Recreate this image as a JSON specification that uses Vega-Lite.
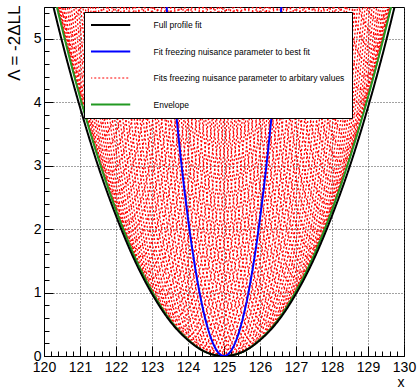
{
  "$schema": "https://vega.github.io/schema/vega-lite/v6.json",
  "width": 360,
  "height": 349,
  "autosize": "none",
  "padding": {"left": 44, "top": 7, "right": 16, "bottom": 33},
  "background": "white",
  "config": {
    "view": {"stroke": "black", "strokeWidth": 1},
    "axis": {"labelFont": "Liberation Sans", "titleFont": "Liberation Sans", "labelColor": "black", "titleColor": "black", "domainColor": "black", "tickColor": "black", "titleFontWeight": "normal"},
    "legend": {"labelFont": "Liberation Sans", "labelColor": "black"}
  },
  "data": {"values": [
    {"s":"C","k":1,"x":119.12,"y":10.99},{"s":"C","k":1,"x":119.92,"y":6.72},{"s":"C","k":1,"x":120.72,"y":5.29},{"s":"C","k":1,"x":121.52,"y":6.72},{"s":"C","k":1,"x":122.32,"y":10.99},
    {"s":"C","k":2,"x":119.30,"y":10.54},{"s":"C","k":2,"x":120.10,"y":6.27},{"s":"C","k":2,"x":120.90,"y":4.84},{"s":"C","k":2,"x":121.70,"y":6.27},{"s":"C","k":2,"x":122.50,"y":10.54},
    {"s":"C","k":3,"x":119.49,"y":10.11},{"s":"C","k":3,"x":120.29,"y":5.84},{"s":"C","k":3,"x":121.09,"y":4.41},{"s":"C","k":3,"x":121.89,"y":5.84},{"s":"C","k":3,"x":122.69,"y":10.11},
    {"s":"C","k":4,"x":119.67,"y":9.70},{"s":"C","k":4,"x":120.47,"y":5.43},{"s":"C","k":4,"x":121.27,"y":4.00},{"s":"C","k":4,"x":122.07,"y":5.43},{"s":"C","k":4,"x":122.87,"y":9.70},
    {"s":"C","k":5,"x":119.86,"y":9.31},{"s":"C","k":5,"x":120.66,"y":5.04},{"s":"C","k":5,"x":121.46,"y":3.61},{"s":"C","k":5,"x":122.26,"y":5.04},{"s":"C","k":5,"x":123.06,"y":9.31},
    {"s":"C","k":6,"x":120.05,"y":8.94},{"s":"C","k":6,"x":120.85,"y":4.67},{"s":"C","k":6,"x":121.65,"y":3.24},{"s":"C","k":6,"x":122.45,"y":4.67},{"s":"C","k":6,"x":123.25,"y":8.94},
    {"s":"C","k":7,"x":120.23,"y":8.59},{"s":"C","k":7,"x":121.03,"y":4.32},{"s":"C","k":7,"x":121.83,"y":2.89},{"s":"C","k":7,"x":122.63,"y":4.32},{"s":"C","k":7,"x":123.43,"y":8.59},
    {"s":"C","k":8,"x":120.42,"y":8.26},{"s":"C","k":8,"x":121.22,"y":3.99},{"s":"C","k":8,"x":122.02,"y":2.56},{"s":"C","k":8,"x":122.82,"y":3.99},{"s":"C","k":8,"x":123.62,"y":8.26},
    {"s":"C","k":9,"x":120.61,"y":7.95},{"s":"C","k":9,"x":121.41,"y":3.68},{"s":"C","k":9,"x":122.21,"y":2.25},{"s":"C","k":9,"x":123.01,"y":3.68},{"s":"C","k":9,"x":123.81,"y":7.95},
    {"s":"C","k":10,"x":120.79,"y":7.66},{"s":"C","k":10,"x":121.59,"y":3.39},{"s":"C","k":10,"x":122.39,"y":1.96},{"s":"C","k":10,"x":123.19,"y":3.39},{"s":"C","k":10,"x":123.99,"y":7.66},
    {"s":"C","k":11,"x":120.98,"y":7.39},{"s":"C","k":11,"x":121.78,"y":3.12},{"s":"C","k":11,"x":122.58,"y":1.69},{"s":"C","k":11,"x":123.38,"y":3.12},{"s":"C","k":11,"x":124.18,"y":7.39},
    {"s":"C","k":12,"x":121.16,"y":7.14},{"s":"C","k":12,"x":121.96,"y":2.87},{"s":"C","k":12,"x":122.76,"y":1.44},{"s":"C","k":12,"x":123.56,"y":2.87},{"s":"C","k":12,"x":124.36,"y":7.14},
    {"s":"C","k":13,"x":121.35,"y":6.91},{"s":"C","k":13,"x":122.15,"y":2.64},{"s":"C","k":13,"x":122.95,"y":1.21},{"s":"C","k":13,"x":123.75,"y":2.64},{"s":"C","k":13,"x":124.55,"y":6.91},
    {"s":"C","k":14,"x":121.54,"y":6.70},{"s":"C","k":14,"x":122.34,"y":2.43},{"s":"C","k":14,"x":123.14,"y":1.00},{"s":"C","k":14,"x":123.94,"y":2.43},{"s":"C","k":14,"x":124.74,"y":6.70},
    {"s":"C","k":15,"x":121.72,"y":6.51},{"s":"C","k":15,"x":122.52,"y":2.24},{"s":"C","k":15,"x":123.32,"y":0.81},{"s":"C","k":15,"x":124.12,"y":2.24},{"s":"C","k":15,"x":124.92,"y":6.51},
    {"s":"C","k":16,"x":121.91,"y":6.34},{"s":"C","k":16,"x":122.71,"y":2.07},{"s":"C","k":16,"x":123.51,"y":0.64},{"s":"C","k":16,"x":124.31,"y":2.07},{"s":"C","k":16,"x":125.11,"y":6.34},
    {"s":"C","k":17,"x":122.10,"y":6.19},{"s":"C","k":17,"x":122.90,"y":1.92},{"s":"C","k":17,"x":123.70,"y":0.49},{"s":"C","k":17,"x":124.50,"y":1.92},{"s":"C","k":17,"x":125.30,"y":6.19},
    {"s":"C","k":18,"x":122.28,"y":6.06},{"s":"C","k":18,"x":123.08,"y":1.79},{"s":"C","k":18,"x":123.88,"y":0.36},{"s":"C","k":18,"x":124.68,"y":1.79},{"s":"C","k":18,"x":125.48,"y":6.06},
    {"s":"C","k":19,"x":122.47,"y":5.95},{"s":"C","k":19,"x":123.27,"y":1.68},{"s":"C","k":19,"x":124.07,"y":0.25},{"s":"C","k":19,"x":124.87,"y":1.68},{"s":"C","k":19,"x":125.67,"y":5.95},
    {"s":"C","k":20,"x":122.66,"y":5.86},{"s":"C","k":20,"x":123.46,"y":1.59},{"s":"C","k":20,"x":124.26,"y":0.16},{"s":"C","k":20,"x":125.06,"y":1.59},{"s":"C","k":20,"x":125.86,"y":5.86},
    {"s":"C","k":21,"x":122.84,"y":5.79},{"s":"C","k":21,"x":123.64,"y":1.52},{"s":"C","k":21,"x":124.44,"y":0.09},{"s":"C","k":21,"x":125.24,"y":1.52},{"s":"C","k":21,"x":126.04,"y":5.79},
    {"s":"C","k":22,"x":123.03,"y":5.74},{"s":"C","k":22,"x":123.83,"y":1.47},{"s":"C","k":22,"x":124.63,"y":0.04},{"s":"C","k":22,"x":125.43,"y":1.47},{"s":"C","k":22,"x":126.23,"y":5.74},
    {"s":"C","k":23,"x":123.21,"y":5.71},{"s":"C","k":23,"x":124.01,"y":1.44},{"s":"C","k":23,"x":124.81,"y":0.01},{"s":"C","k":23,"x":125.61,"y":1.44},{"s":"C","k":23,"x":126.41,"y":5.71},
    {"s":"C","k":24,"x":123.40,"y":5.70},{"s":"C","k":24,"x":124.20,"y":1.43},{"s":"C","k":24,"x":125.00,"y":0.00},{"s":"C","k":24,"x":125.80,"y":1.43},{"s":"C","k":24,"x":126.60,"y":5.70},
    {"s":"C","k":25,"x":123.59,"y":5.71},{"s":"C","k":25,"x":124.39,"y":1.44},{"s":"C","k":25,"x":125.19,"y":0.01},{"s":"C","k":25,"x":125.99,"y":1.44},{"s":"C","k":25,"x":126.79,"y":5.71},
    {"s":"C","k":26,"x":123.77,"y":5.74},{"s":"C","k":26,"x":124.57,"y":1.47},{"s":"C","k":26,"x":125.37,"y":0.04},{"s":"C","k":26,"x":126.17,"y":1.47},{"s":"C","k":26,"x":126.97,"y":5.74},
    {"s":"C","k":27,"x":123.96,"y":5.79},{"s":"C","k":27,"x":124.76,"y":1.52},{"s":"C","k":27,"x":125.56,"y":0.09},{"s":"C","k":27,"x":126.36,"y":1.52},{"s":"C","k":27,"x":127.16,"y":5.79},
    {"s":"C","k":28,"x":124.14,"y":5.86},{"s":"C","k":28,"x":124.94,"y":1.59},{"s":"C","k":28,"x":125.74,"y":0.16},{"s":"C","k":28,"x":126.54,"y":1.59},{"s":"C","k":28,"x":127.34,"y":5.86},
    {"s":"C","k":29,"x":124.33,"y":5.95},{"s":"C","k":29,"x":125.13,"y":1.68},{"s":"C","k":29,"x":125.93,"y":0.25},{"s":"C","k":29,"x":126.73,"y":1.68},{"s":"C","k":29,"x":127.53,"y":5.95},
    {"s":"C","k":30,"x":124.52,"y":6.06},{"s":"C","k":30,"x":125.32,"y":1.79},{"s":"C","k":30,"x":126.12,"y":0.36},{"s":"C","k":30,"x":126.92,"y":1.79},{"s":"C","k":30,"x":127.72,"y":6.06},
    {"s":"C","k":31,"x":124.70,"y":6.19},{"s":"C","k":31,"x":125.50,"y":1.92},{"s":"C","k":31,"x":126.30,"y":0.49},{"s":"C","k":31,"x":127.10,"y":1.92},{"s":"C","k":31,"x":127.90,"y":6.19},
    {"s":"C","k":32,"x":124.89,"y":6.34},{"s":"C","k":32,"x":125.69,"y":2.07},{"s":"C","k":32,"x":126.49,"y":0.64},{"s":"C","k":32,"x":127.29,"y":2.07},{"s":"C","k":32,"x":128.09,"y":6.34},
    {"s":"C","k":33,"x":125.08,"y":6.51},{"s":"C","k":33,"x":125.88,"y":2.24},{"s":"C","k":33,"x":126.68,"y":0.81},{"s":"C","k":33,"x":127.48,"y":2.24},{"s":"C","k":33,"x":128.28,"y":6.51},
    {"s":"C","k":34,"x":125.26,"y":6.70},{"s":"C","k":34,"x":126.06,"y":2.43},{"s":"C","k":34,"x":126.86,"y":1.00},{"s":"C","k":34,"x":127.66,"y":2.43},{"s":"C","k":34,"x":128.46,"y":6.70},
    {"s":"C","k":35,"x":125.45,"y":6.91},{"s":"C","k":35,"x":126.25,"y":2.64},{"s":"C","k":35,"x":127.05,"y":1.21},{"s":"C","k":35,"x":127.85,"y":2.64},{"s":"C","k":35,"x":128.65,"y":6.91},
    {"s":"C","k":36,"x":125.64,"y":7.14},{"s":"C","k":36,"x":126.44,"y":2.87},{"s":"C","k":36,"x":127.24,"y":1.44},{"s":"C","k":36,"x":128.04,"y":2.87},{"s":"C","k":36,"x":128.84,"y":7.14},
    {"s":"C","k":37,"x":125.82,"y":7.39},{"s":"C","k":37,"x":126.62,"y":3.12},{"s":"C","k":37,"x":127.42,"y":1.69},{"s":"C","k":37,"x":128.22,"y":3.12},{"s":"C","k":37,"x":129.02,"y":7.39},
    {"s":"C","k":38,"x":126.01,"y":7.66},{"s":"C","k":38,"x":126.81,"y":3.39},{"s":"C","k":38,"x":127.61,"y":1.96},{"s":"C","k":38,"x":128.41,"y":3.39},{"s":"C","k":38,"x":129.21,"y":7.66},
    {"s":"C","k":39,"x":126.19,"y":7.95},{"s":"C","k":39,"x":126.99,"y":3.68},{"s":"C","k":39,"x":127.79,"y":2.25},{"s":"C","k":39,"x":128.59,"y":3.68},{"s":"C","k":39,"x":129.39,"y":7.95},
    {"s":"C","k":40,"x":126.38,"y":8.26},{"s":"C","k":40,"x":127.18,"y":3.99},{"s":"C","k":40,"x":127.98,"y":2.56},{"s":"C","k":40,"x":128.78,"y":3.99},{"s":"C","k":40,"x":129.58,"y":8.26},
    {"s":"C","k":41,"x":126.57,"y":8.59},{"s":"C","k":41,"x":127.37,"y":4.32},{"s":"C","k":41,"x":128.17,"y":2.89},{"s":"C","k":41,"x":128.97,"y":4.32},{"s":"C","k":41,"x":129.77,"y":8.59},
    {"s":"C","k":42,"x":126.75,"y":8.94},{"s":"C","k":42,"x":127.55,"y":4.67},{"s":"C","k":42,"x":128.35,"y":3.24},{"s":"C","k":42,"x":129.15,"y":4.67},{"s":"C","k":42,"x":129.95,"y":8.94},
    {"s":"C","k":43,"x":126.94,"y":9.31},{"s":"C","k":43,"x":127.74,"y":5.04},{"s":"C","k":43,"x":128.54,"y":3.61},{"s":"C","k":43,"x":129.34,"y":5.04},{"s":"C","k":43,"x":130.14,"y":9.31},
    {"s":"C","k":44,"x":127.13,"y":9.70},{"s":"C","k":44,"x":127.93,"y":5.43},{"s":"C","k":44,"x":128.73,"y":4.00},{"s":"C","k":44,"x":129.53,"y":5.43},{"s":"C","k":44,"x":130.33,"y":9.70},
    {"s":"C","k":45,"x":127.31,"y":10.11},{"s":"C","k":45,"x":128.11,"y":5.84},{"s":"C","k":45,"x":128.91,"y":4.41},{"s":"C","k":45,"x":129.71,"y":5.84},{"s":"C","k":45,"x":130.51,"y":10.11},
    {"s":"C","k":46,"x":127.50,"y":10.54},{"s":"C","k":46,"x":128.30,"y":6.27},{"s":"C","k":46,"x":129.10,"y":4.84},{"s":"C","k":46,"x":129.90,"y":6.27},{"s":"C","k":46,"x":130.70,"y":10.54},
    {"s":"C","k":47,"x":127.68,"y":10.99},{"s":"C","k":47,"x":128.48,"y":6.72},{"s":"C","k":47,"x":129.28,"y":5.29},{"s":"C","k":47,"x":130.08,"y":6.72},{"s":"C","k":47,"x":130.88,"y":10.99},
    {"s":"C","k":48,"x":123.31,"y":5.70},{"s":"C","k":48,"x":124.11,"y":1.43},{"s":"C","k":48,"x":124.91,"y":0.00},{"s":"C","k":48,"x":125.71,"y":1.43},{"s":"C","k":48,"x":126.51,"y":5.70},
    {"s":"C","k":49,"x":123.12,"y":5.72},{"s":"C","k":49,"x":123.92,"y":1.45},{"s":"C","k":49,"x":124.72,"y":0.02},{"s":"C","k":49,"x":125.52,"y":1.45},{"s":"C","k":49,"x":126.32,"y":5.72},
    {"s":"C","k":50,"x":122.93,"y":5.76},{"s":"C","k":50,"x":123.73,"y":1.49},{"s":"C","k":50,"x":124.53,"y":0.06},{"s":"C","k":50,"x":125.33,"y":1.49},{"s":"C","k":50,"x":126.13,"y":5.76},
    {"s":"C","k":51,"x":122.75,"y":5.82},{"s":"C","k":51,"x":123.55,"y":1.55},{"s":"C","k":51,"x":124.35,"y":0.12},{"s":"C","k":51,"x":125.15,"y":1.55},{"s":"C","k":51,"x":125.95,"y":5.82},
    {"s":"C","k":52,"x":122.56,"y":5.90},{"s":"C","k":52,"x":123.36,"y":1.63},{"s":"C","k":52,"x":124.16,"y":0.20},{"s":"C","k":52,"x":124.96,"y":1.63},{"s":"C","k":52,"x":125.76,"y":5.90},
    {"s":"C","k":53,"x":122.38,"y":6.00},{"s":"C","k":53,"x":123.18,"y":1.73},{"s":"C","k":53,"x":123.98,"y":0.30},{"s":"C","k":53,"x":124.78,"y":1.73},{"s":"C","k":53,"x":125.58,"y":6.00},
    {"s":"C","k":54,"x":122.19,"y":6.12},{"s":"C","k":54,"x":122.99,"y":1.85},{"s":"C","k":54,"x":123.79,"y":0.42},{"s":"C","k":54,"x":124.59,"y":1.85},{"s":"C","k":54,"x":125.39,"y":6.12},
    {"s":"C","k":55,"x":122.00,"y":6.26},{"s":"C","k":55,"x":122.80,"y":1.99},{"s":"C","k":55,"x":123.60,"y":0.56},{"s":"C","k":55,"x":124.40,"y":1.99},{"s":"C","k":55,"x":125.20,"y":6.26},
    {"s":"C","k":56,"x":121.82,"y":6.42},{"s":"C","k":56,"x":122.62,"y":2.15},{"s":"C","k":56,"x":123.42,"y":0.72},{"s":"C","k":56,"x":124.22,"y":2.15},{"s":"C","k":56,"x":125.02,"y":6.42},
    {"s":"C","k":57,"x":121.63,"y":6.60},{"s":"C","k":57,"x":122.43,"y":2.33},{"s":"C","k":57,"x":123.23,"y":0.90},{"s":"C","k":57,"x":124.03,"y":2.33},{"s":"C","k":57,"x":124.83,"y":6.60},
    {"s":"C","k":58,"x":121.44,"y":6.80},{"s":"C","k":58,"x":122.24,"y":2.53},{"s":"C","k":58,"x":123.04,"y":1.10},{"s":"C","k":58,"x":123.84,"y":2.53},{"s":"C","k":58,"x":124.64,"y":6.80},
    {"s":"C","k":59,"x":121.26,"y":7.02},{"s":"C","k":59,"x":122.06,"y":2.75},{"s":"C","k":59,"x":122.86,"y":1.32},{"s":"C","k":59,"x":123.66,"y":2.75},{"s":"C","k":59,"x":124.46,"y":7.02},
    {"s":"C","k":60,"x":121.07,"y":7.26},{"s":"C","k":60,"x":121.87,"y":2.99},{"s":"C","k":60,"x":122.67,"y":1.56},{"s":"C","k":60,"x":123.47,"y":2.99},{"s":"C","k":60,"x":124.27,"y":7.26},
    {"s":"C","k":61,"x":120.89,"y":7.52},{"s":"C","k":61,"x":121.69,"y":3.25},{"s":"C","k":61,"x":122.49,"y":1.82},{"s":"C","k":61,"x":123.29,"y":3.25},{"s":"C","k":61,"x":124.09,"y":7.52},
    {"s":"C","k":62,"x":120.70,"y":7.80},{"s":"C","k":62,"x":121.50,"y":3.53},{"s":"C","k":62,"x":122.30,"y":2.10},{"s":"C","k":62,"x":123.10,"y":3.53},{"s":"C","k":62,"x":123.90,"y":7.80},
    {"s":"C","k":63,"x":120.51,"y":8.10},{"s":"C","k":63,"x":121.31,"y":3.83},{"s":"C","k":63,"x":122.11,"y":2.40},{"s":"C","k":63,"x":122.91,"y":3.83},{"s":"C","k":63,"x":123.71,"y":8.10},
    {"s":"C","k":64,"x":120.33,"y":8.42},{"s":"C","k":64,"x":121.13,"y":4.15},{"s":"C","k":64,"x":121.93,"y":2.72},{"s":"C","k":64,"x":122.73,"y":4.15},{"s":"C","k":64,"x":123.53,"y":8.42},
    {"s":"C","k":65,"x":120.14,"y":8.76},{"s":"C","k":65,"x":120.94,"y":4.49},{"s":"C","k":65,"x":121.74,"y":3.06},{"s":"C","k":65,"x":122.54,"y":4.49},{"s":"C","k":65,"x":123.34,"y":8.76},
    {"s":"C","k":66,"x":119.95,"y":9.12},{"s":"C","k":66,"x":120.75,"y":4.85},{"s":"C","k":66,"x":121.55,"y":3.42},{"s":"C","k":66,"x":122.35,"y":4.85},{"s":"C","k":66,"x":123.15,"y":9.12},
    {"s":"C","k":67,"x":119.77,"y":9.50},{"s":"C","k":67,"x":120.57,"y":5.23},{"s":"C","k":67,"x":121.37,"y":3.80},{"s":"C","k":67,"x":122.17,"y":5.23},{"s":"C","k":67,"x":122.97,"y":9.50},
    {"s":"C","k":68,"x":119.58,"y":9.90},{"s":"C","k":68,"x":120.38,"y":5.63},{"s":"C","k":68,"x":121.18,"y":4.20},{"s":"C","k":68,"x":121.98,"y":5.63},{"s":"C","k":68,"x":122.78,"y":9.90},
    {"s":"C","k":69,"x":119.40,"y":10.32},{"s":"C","k":69,"x":120.20,"y":6.05},{"s":"C","k":69,"x":121.00,"y":4.62},{"s":"C","k":69,"x":121.80,"y":6.05},{"s":"C","k":69,"x":122.60,"y":10.32},
    {"s":"C","k":70,"x":119.21,"y":10.76},{"s":"C","k":70,"x":120.01,"y":6.49},{"s":"C","k":70,"x":120.81,"y":5.06},{"s":"C","k":70,"x":121.61,"y":6.49},{"s":"C","k":70,"x":122.41,"y":10.76},
    {"s":"C","k":71,"x":123.49,"y":5.70},{"s":"C","k":71,"x":124.29,"y":1.43},{"s":"C","k":71,"x":125.09,"y":0.00},{"s":"C","k":71,"x":125.89,"y":1.43},{"s":"C","k":71,"x":126.69,"y":5.70},
    {"s":"C","k":72,"x":123.68,"y":5.72},{"s":"C","k":72,"x":124.48,"y":1.45},{"s":"C","k":72,"x":125.28,"y":0.02},{"s":"C","k":72,"x":126.08,"y":1.45},{"s":"C","k":72,"x":126.88,"y":5.72},
    {"s":"C","k":73,"x":123.87,"y":5.76},{"s":"C","k":73,"x":124.67,"y":1.49},{"s":"C","k":73,"x":125.47,"y":0.06},{"s":"C","k":73,"x":126.27,"y":1.49},{"s":"C","k":73,"x":127.07,"y":5.76},
    {"s":"C","k":74,"x":124.05,"y":5.82},{"s":"C","k":74,"x":124.85,"y":1.55},{"s":"C","k":74,"x":125.65,"y":0.12},{"s":"C","k":74,"x":126.45,"y":1.55},{"s":"C","k":74,"x":127.25,"y":5.82},
    {"s":"C","k":75,"x":124.24,"y":5.90},{"s":"C","k":75,"x":125.04,"y":1.63},{"s":"C","k":75,"x":125.84,"y":0.20},{"s":"C","k":75,"x":126.64,"y":1.63},{"s":"C","k":75,"x":127.44,"y":5.90},
    {"s":"C","k":76,"x":124.42,"y":6.00},{"s":"C","k":76,"x":125.22,"y":1.73},{"s":"C","k":76,"x":126.02,"y":0.30},{"s":"C","k":76,"x":126.82,"y":1.73},{"s":"C","k":76,"x":127.62,"y":6.00},
    {"s":"C","k":77,"x":124.61,"y":6.12},{"s":"C","k":77,"x":125.41,"y":1.85},{"s":"C","k":77,"x":126.21,"y":0.42},{"s":"C","k":77,"x":127.01,"y":1.85},{"s":"C","k":77,"x":127.81,"y":6.12},
    {"s":"C","k":78,"x":124.80,"y":6.26},{"s":"C","k":78,"x":125.60,"y":1.99},{"s":"C","k":78,"x":126.40,"y":0.56},{"s":"C","k":78,"x":127.20,"y":1.99},{"s":"C","k":78,"x":128.00,"y":6.26},
    {"s":"C","k":79,"x":124.98,"y":6.42},{"s":"C","k":79,"x":125.78,"y":2.15},{"s":"C","k":79,"x":126.58,"y":0.72},{"s":"C","k":79,"x":127.38,"y":2.15},{"s":"C","k":79,"x":128.18,"y":6.42},
    {"s":"C","k":80,"x":125.17,"y":6.60},{"s":"C","k":80,"x":125.97,"y":2.33},{"s":"C","k":80,"x":126.77,"y":0.90},{"s":"C","k":80,"x":127.57,"y":2.33},{"s":"C","k":80,"x":128.37,"y":6.60},
    {"s":"C","k":81,"x":125.36,"y":6.80},{"s":"C","k":81,"x":126.16,"y":2.53},{"s":"C","k":81,"x":126.96,"y":1.10},{"s":"C","k":81,"x":127.76,"y":2.53},{"s":"C","k":81,"x":128.56,"y":6.80},
    {"s":"C","k":82,"x":125.54,"y":7.02},{"s":"C","k":82,"x":126.34,"y":2.75},{"s":"C","k":82,"x":127.14,"y":1.32},{"s":"C","k":82,"x":127.94,"y":2.75},{"s":"C","k":82,"x":128.74,"y":7.02},
    {"s":"C","k":83,"x":125.73,"y":7.26},{"s":"C","k":83,"x":126.53,"y":2.99},{"s":"C","k":83,"x":127.33,"y":1.56},{"s":"C","k":83,"x":128.13,"y":2.99},{"s":"C","k":83,"x":128.93,"y":7.26},
    {"s":"C","k":84,"x":125.91,"y":7.52},{"s":"C","k":84,"x":126.71,"y":3.25},{"s":"C","k":84,"x":127.51,"y":1.82},{"s":"C","k":84,"x":128.31,"y":3.25},{"s":"C","k":84,"x":129.11,"y":7.52},
    {"s":"C","k":85,"x":126.10,"y":7.80},{"s":"C","k":85,"x":126.90,"y":3.53},{"s":"C","k":85,"x":127.70,"y":2.10},{"s":"C","k":85,"x":128.50,"y":3.53},{"s":"C","k":85,"x":129.30,"y":7.80},
    {"s":"C","k":86,"x":126.29,"y":8.10},{"s":"C","k":86,"x":127.09,"y":3.83},{"s":"C","k":86,"x":127.89,"y":2.40},{"s":"C","k":86,"x":128.69,"y":3.83},{"s":"C","k":86,"x":129.49,"y":8.10},
    {"s":"C","k":87,"x":126.47,"y":8.42},{"s":"C","k":87,"x":127.27,"y":4.15},{"s":"C","k":87,"x":128.07,"y":2.72},{"s":"C","k":87,"x":128.87,"y":4.15},{"s":"C","k":87,"x":129.67,"y":8.42},
    {"s":"C","k":88,"x":126.66,"y":8.76},{"s":"C","k":88,"x":127.46,"y":4.49},{"s":"C","k":88,"x":128.26,"y":3.06},{"s":"C","k":88,"x":129.06,"y":4.49},{"s":"C","k":88,"x":129.86,"y":8.76},
    {"s":"C","k":89,"x":126.85,"y":9.12},{"s":"C","k":89,"x":127.65,"y":4.85},{"s":"C","k":89,"x":128.45,"y":3.42},{"s":"C","k":89,"x":129.25,"y":4.85},{"s":"C","k":89,"x":130.05,"y":9.12},
    {"s":"C","k":90,"x":127.03,"y":9.50},{"s":"C","k":90,"x":127.83,"y":5.23},{"s":"C","k":90,"x":128.63,"y":3.80},{"s":"C","k":90,"x":129.43,"y":5.23},{"s":"C","k":90,"x":130.23,"y":9.50},
    {"s":"C","k":91,"x":127.22,"y":9.90},{"s":"C","k":91,"x":128.02,"y":5.63},{"s":"C","k":91,"x":128.82,"y":4.20},{"s":"C","k":91,"x":129.62,"y":5.63},{"s":"C","k":91,"x":130.42,"y":9.90},
    {"s":"C","k":92,"x":127.40,"y":10.32},{"s":"C","k":92,"x":128.20,"y":6.05},{"s":"C","k":92,"x":129.00,"y":4.62},{"s":"C","k":92,"x":129.80,"y":6.05},{"s":"C","k":92,"x":130.60,"y":10.32},
    {"s":"C","k":93,"x":127.59,"y":10.76},{"s":"C","k":93,"x":128.39,"y":6.49},{"s":"C","k":93,"x":129.19,"y":5.06},{"s":"C","k":93,"x":129.99,"y":6.49},{"s":"C","k":93,"x":130.79,"y":10.76},
    {"s":"D","k":0,"x":120.0,"y":6.38},{"s":"D","k":0,"x":120.5,"y":5.17},{"s":"D","k":0,"x":121.0,"y":4.08},{"s":"D","k":0,"x":121.5,"y":3.13},{"s":"D","k":0,"x":122.0,"y":2.30},{"s":"D","k":0,"x":122.5,"y":1.59},{"s":"D","k":0,"x":123.0,"y":1.02},{"s":"D","k":0,"x":123.5,"y":0.57},{"s":"D","k":0,"x":124.0,"y":0.26},{"s":"D","k":0,"x":124.5,"y":0.06},{"s":"D","k":0,"x":125.0,"y":0.0},
    {"s":"D","k":0,"x":125.5,"y":0.06},{"s":"D","k":0,"x":126.0,"y":0.26},{"s":"D","k":0,"x":126.5,"y":0.57},{"s":"D","k":0,"x":127.0,"y":1.02},{"s":"D","k":0,"x":127.5,"y":1.59},{"s":"D","k":0,"x":128.0,"y":2.30},{"s":"D","k":0,"x":128.5,"y":3.13},{"s":"D","k":0,"x":129.0,"y":4.08},{"s":"D","k":0,"x":129.5,"y":5.17},{"s":"D","k":0,"x":130.0,"y":6.38},
    {"s":"A","k":0,"x":120.0,"y":6.13},{"s":"A","k":0,"x":120.5,"y":4.96},{"s":"A","k":0,"x":121.0,"y":3.92},{"s":"A","k":0,"x":121.5,"y":3.00},{"s":"A","k":0,"x":122.0,"y":2.21},{"s":"A","k":0,"x":122.5,"y":1.53},{"s":"A","k":0,"x":123.0,"y":0.98},{"s":"A","k":0,"x":123.5,"y":0.55},{"s":"A","k":0,"x":124.0,"y":0.25},{"s":"A","k":0,"x":124.5,"y":0.06},{"s":"A","k":0,"x":125.0,"y":0.0},
    {"s":"A","k":0,"x":125.5,"y":0.06},{"s":"A","k":0,"x":126.0,"y":0.25},{"s":"A","k":0,"x":126.5,"y":0.55},{"s":"A","k":0,"x":127.0,"y":0.98},{"s":"A","k":0,"x":127.5,"y":1.53},{"s":"A","k":0,"x":128.0,"y":2.21},{"s":"A","k":0,"x":128.5,"y":3.00},{"s":"A","k":0,"x":129.0,"y":3.92},{"s":"A","k":0,"x":129.5,"y":4.96},{"s":"A","k":0,"x":130.0,"y":6.13},
    {"s":"B","k":0,"x":123.25,"y":6.63},{"s":"B","k":0,"x":123.5,"y":4.87},{"s":"B","k":0,"x":123.75,"y":3.38},{"s":"B","k":0,"x":124.0,"y":2.165},{"s":"B","k":0,"x":124.25,"y":1.218},{"s":"B","k":0,"x":124.5,"y":0.541},{"s":"B","k":0,"x":124.75,"y":0.135},{"s":"B","k":0,"x":125.0,"y":0.0},
    {"s":"B","k":0,"x":125.25,"y":0.135},{"s":"B","k":0,"x":125.5,"y":0.541},{"s":"B","k":0,"x":125.75,"y":1.218},{"s":"B","k":0,"x":126.0,"y":2.165},{"s":"B","k":0,"x":126.25,"y":3.38},{"s":"B","k":0,"x":126.5,"y":4.87},{"s":"B","k":0,"x":126.75,"y":6.63}
  ]},
  "encoding": {
    "x": {"field": "x", "type": "quantitative",
      "scale": {"domain": [120, 130], "nice": false, "zero": false},
      "axis": {
        "values": [120,120.2,120.4,120.6,120.8,121,121.2,121.4,121.6,121.8,122,122.2,122.4,122.6,122.8,123,123.2,123.4,123.6,123.8,124,124.2,124.4,124.6,124.8,125,125.2,125.4,125.6,125.8,126,126.2,126.4,126.6,126.8,127,127.2,127.4,127.6,127.8,128,128.2,128.4,128.6,128.8,129,129.2,129.4,129.6,129.8,130],
        "labelExpr": "abs(datum.value - round(datum.value)) < 0.01 ? '' + round(datum.value) : ''",
        "labelOverlap": false, "labelFlush": false, "labelBound": false,
        "labelFontSize": 14, "labelPadding": 14,
        "tickSize": {"condition": {"test": "abs(datum.value - round(datum.value)) < 0.01", "value": -10}, "value": -5},
        "grid": true, "gridDash": [1, 2], "gridColor": "#444444", "gridWidth": 1,
        "gridOpacity": {"condition": {"test": "abs(datum.value - round(datum.value)) < 0.01", "value": 1}, "value": 0},
        "title": "x", "titleFontSize": 14, "titleAnchor": "end", "titleAlign": "right", "titleBaseline": "middle", "titleX": 360, "titleY": 26
      }
    },
    "y": {"field": "y", "type": "quantitative",
      "scale": {"domain": [0, 5.5], "nice": false, "zero": false},
      "axis": {
        "values": [0,0.2,0.4,0.6,0.8,1,1.2,1.4,1.6,1.8,2,2.2,2.4,2.6,2.8,3,3.2,3.4,3.6,3.8,4,4.2,4.4,4.6,4.8,5,5.2,5.4],
        "labelExpr": "abs(datum.value - round(datum.value)) < 0.01 ? '' + round(datum.value) : ''",
        "labelOverlap": false, "labelFlush": false, "labelBound": false,
        "labelFontSize": 14, "labelPadding": 12,
        "tickSize": {"condition": {"test": "abs(datum.value - round(datum.value)) < 0.01", "value": -9}, "value": -5},
        "grid": true, "gridDash": [1, 2], "gridColor": "#444444", "gridWidth": 1,
        "gridOpacity": {"condition": {"test": "abs(datum.value - round(datum.value)) < 0.01", "value": 1}, "value": 0},
        "title": "Λ = -2ΔLL", "titleFontSize": 17, "titleAnchor": "end", "titleAngle": 270, "titleAlign": "right", "titleBaseline": "middle", "titleX": -30, "titleY": -2
      }
    },
    "color": {"field": "s", "type": "nominal",
      "scale": {"domain": ["A", "B", "C", "D"], "range": ["#000000", "#0000ff", "#ff0000", "#229922"]},
      "legend": {
        "orient": "none", "legendX": 40, "legendY": 5, "title": null,
        "fillColor": "white", "strokeColor": "black", "padding": 7,
        "symbolType": "stroke", "symbolSize": 2304, "symbolStrokeWidth": 2, "symbolOffset": 11,
        "clipHeight": 12, "rowPadding": 14.5, "labelOffset": 43, "labelFontSize": 8.5, "labelLimit": 400,
        "zindex": 1,
        "labelExpr": "({'A': 'Full profile fit', 'B': 'Fit freezing nuisance parameter to best fit', 'C': 'Fits freezing nuisance parameter to arbitary values\u00a0\u00a0\u00a0\u00a0\u00a0\u00a0\u00a0\u00a0\u00a0\u00a0', 'D': 'Envelope'})[datum.label]",
        "encode": {"symbols": {"update": {"strokeWidth": {"signal": "datum.value === 'C' ? 1 : 2"}}}}
      }
    },
    "strokeDash": {"field": "s", "type": "nominal",
      "scale": {"domain": ["A", "B", "C", "D"], "range": [[1, 0], [1, 0], [2, 2], [1, 0]]}
    }
  },
  "layer": [
    {
      "transform": [{"filter": "datum.s === 'C'"}],
      "mark": {"type": "line", "interpolate": "monotone", "clip": true, "strokeWidth": 1.25},
      "encoding": {"detail": {"field": "k", "type": "nominal"}}
    },
    {
      "transform": [{"filter": "datum.s !== 'C'"}],
      "mark": {"type": "line", "interpolate": "monotone", "clip": true, "strokeWidth": 2},
      "encoding": {"detail": {"field": "s", "type": "nominal"}}
    }
  ]
}
